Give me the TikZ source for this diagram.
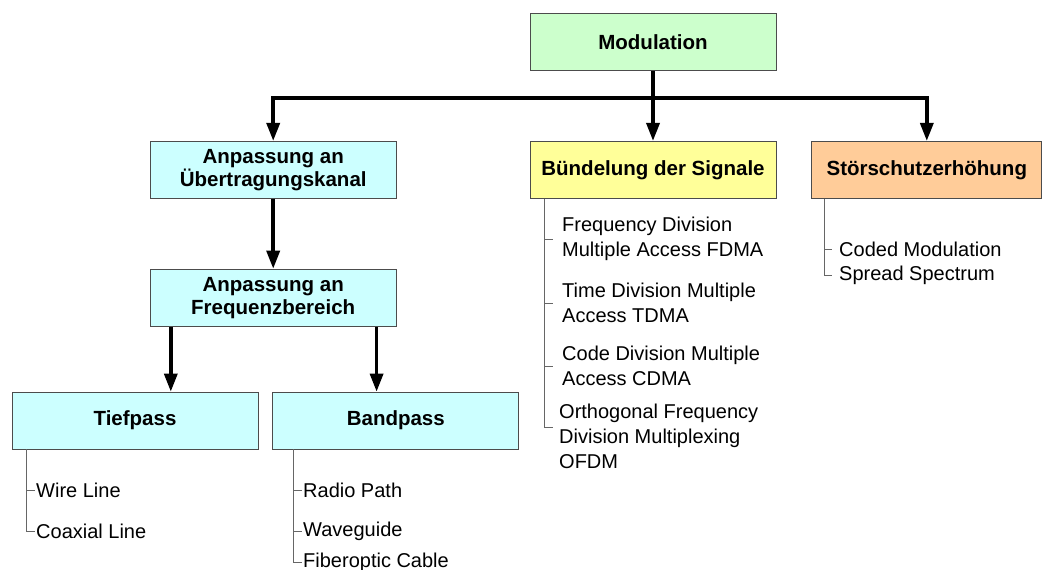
\documentclass[tikz,border=0pt]{standalone}
\usepackage{fontspec}
\setmainfont{Liberation Sans}
\usetikzlibrary{arrows.meta,positioning}

\definecolor{modgreen}{HTML}{CCFFCC}
\definecolor{boxcyan}{HTML}{CCFFFF}
\definecolor{bunyellow}{HTML}{FFFF99}
\definecolor{storange}{HTML}{FFCC99}

\begin{document}
\begin{tikzpicture}[x=1pt,y=-1pt,>={Triangle[length=18pt,width=13pt]},
    box/.style={draw=black!70,line width=0.8pt,minimum width=246pt,minimum height=57pt,
                inner sep=2pt,align=center,font=\fontsize{20.5}{23}\selectfont\bfseries},
    bus/.style={->,line width=3.5pt},
    item/.style={anchor=west,align=left,inner sep=1pt,font=\fontsize{20}{25}\selectfont},
    twig/.style={draw=black!60,line width=1pt}]

  \useasboundingbox (0,0) rectangle (1044,570);

  % boxes
  \node[box,fill=modgreen] (mod) at (653,42) {Modulation};
  \node[box,fill=bunyellow] (bund) [below=70pt of mod] {B\"undelung der Signale};
  \node[box,fill=boxcyan] (kanal) [left=133pt of bund] {Anpassung an\\\"Ubertragungskanal};
  \node[box,fill=storange,minimum width=230pt] (stoer) [right=35pt of bund] {St\"orschutzerh\"ohung};
  \node[box,fill=boxcyan] (freq) [below=70pt of kanal] {Anpassung an\\Frequenzbereich};
  \node[box,fill=boxcyan] (tief) at (135,420.5) {Tiefpass};
  \node[box,fill=boxcyan] (band) [right=14pt of tief] {Bandpass};

  % thick arrows
  \path (mod.south) ++(0,27) coordinate (split);
  \draw[bus] (mod.south) -- (bund.north);
  \draw[bus] (split) -| (kanal.north);
  \draw[bus] (split) -| (stoer.north);
  \draw[bus] (kanal.south) -- (freq.north);
  \coordinate (fl) at ([xshift=21pt]freq.south west);
  \coordinate (fr) at ([xshift=-20pt]freq.south east);
  \draw[bus] (fl) -- (fl |- tief.north);
  \draw[bus] (fr) -- (fr |- band.north);

  % Tiefpass list
  \foreach \nm/\yy/\txt in {wire/490/Wire Line, coax/531/Coaxial Line}
    \node[item] (\nm) at (35,\yy) {\txt};
  \coordinate (tt) at ([xshift=15pt]tief.south west);
  \draw[twig] (tt) |- (coax.west);
  \draw[twig] (tt |- wire.west) -- (wire.west);

  % Bandpass list
  \foreach \nm/\yy/\txt in {radio/490/Radio Path, wave/531/Waveguide, fiber/562/Fiberoptic Cable}
    \node[item] (\nm) at (302,\yy) {\txt};
  \coordinate (bt) at ([xshift=21pt]band.south west);
  \draw[twig] (bt) |- (fiber.west);
  \draw[twig] (bt |- radio.west) -- (radio.west);
  \draw[twig] (bt |- wave.west) -- (wave.west);

  % Buendelung list
  \node[item] (fdma) at (561,239) {Frequency Division\\Multiple Access FDMA};
  \node[item] (tdma) at (561,303) {Time Division Multiple\\Access TDMA};
  \node[item] (cdma) at (561,366) {Code Division Multiple\\Access CDMA};
  \node[item] (ofdm) at (558,436) {Orthogonal Frequency\\Division Multiplexing\\OFDM};
  \coordinate (ut) at ([xshift=15pt]bund.south west);
  \coordinate (oc) at ([yshift=9pt]ofdm.west);
  \draw[twig] (ut) -- (ut |- oc) -- ++(8,0);
  \foreach \nm in {fdma,tdma,cdma}
    \draw[twig] (ut |- \nm.west) -- ++(8,0);

  % Stoerschutz list
  \foreach \nm/\yy/\txt in {coded/249/Coded Modulation, spread/275/Spread Spectrum}
    \node[item] (\nm) at (838,\yy) {\txt};
  \coordinate (st) at ([xshift=13pt]stoer.south west);
  \draw[twig] (st) |- ([xshift=-6pt]spread.west);
  \draw[twig] (st |- coded.west) -- ++(8,0);

\end{tikzpicture}
\end{document}
